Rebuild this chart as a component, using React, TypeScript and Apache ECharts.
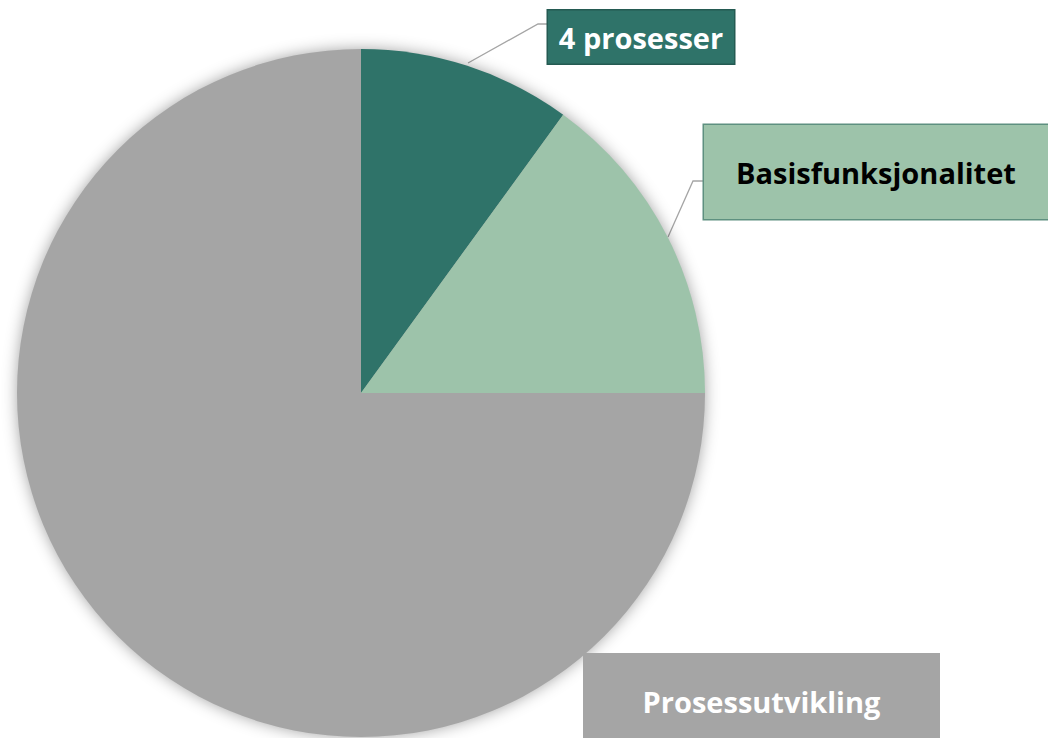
import React, { useEffect, useRef } from "react";
import * as echarts from "echarts";

const categories = ["4 prosesser", "Basisfunksjonalitet", "Prosessutvikling"];
const values = [10, 15, 75];
const sliceColors = ["#2F7369", "#9DC3AA", "#A5A5A5"];
const labelBg = ["#2F7369", "#9DC3AA", "#A5A5A5"];
const labelBorder = ["#245A52", "#5E9080", "#A5A5A5"];
const labelText = ["#FFFFFF", "#000000", "#FFFFFF"];

// label box geometry: [centerX, centerY, width, height]
const labelBoxes = [
  [641, 37, 186, 53],
  [876, 172, 344, 94],
  [761.5, 701.5, 357, 97],
];
// leader line points (null = no line)
const leaderLines: (number[][] | null)[] = [
  [[468, 63], [538, 24], [548, 24]],
  [[668, 237], [693, 181], [704, 181]],
  null,
];

export default function App() {
  const ref = useRef<HTMLDivElement>(null);
  useEffect(() => {
    if (!ref.current) return;
    const chart = echarts.init(ref.current, null, { renderer: "svg" });
    const total = values.reduce((a, b) => a + b, 0);
    chart.setOption({
      animation: false,
      backgroundColor: "#FFFFFF",
      series: [
        {
          // soft drop shadow under the whole pie
          type: "pie",
          silent: true,
          center: [361, 393],
          radius: 343,
          label: { show: false },
          labelLine: { show: false },
          emphasis: { disabled: true },
          itemStyle: {
            color: "#A5A5A5",
            shadowBlur: 16,
            shadowColor: "rgba(0,0,0,0.4)",
          },
          data: [{ name: "", value: total }],
        },
        {
          type: "pie",
          center: [361, 393],
          radius: 344,
          startAngle: 90,
          clockwise: true,
          avoidLabelOverlap: false,
          emphasis: { disabled: true },
          labelLine: {
            show: true,
            lineStyle: { color: "#A5A5A5", width: 1.3 },
          },
          data: categories.map((name, i) => ({
            name,
            value: values[i],
            itemStyle: { color: sliceColors[i] },
            labelLine: { show: leaderLines[i] !== null },
            label: {
              show: true,
              position: "outside",
              formatter: "{b}",
              fontFamily: "'Open Sans', sans-serif",
              fontWeight: "bold",
              fontSize: 29,
              color: labelText[i],
              backgroundColor: labelBg[i],
              borderColor: labelBorder[i],
              borderWidth: i === 2 ? 0 : 1.5,
              width: labelBoxes[i][2],
              height: labelBoxes[i][3],
              lineHeight: labelBoxes[i][3],
              align: "center",
              verticalAlign: "middle",
              padding: 0,
            },
          })),
          labelLayout: (params: any) => {
            const i = params.dataIndex;
            const b = labelBoxes[i];
            const res: any = {
              x: b[0],
              y: b[1],
              align: "center",
              verticalAlign: "middle",
            };
            if (leaderLines[i]) res.labelLinePoints = leaderLines[i];
            return res;
          },
        },
      ],
    });
    return () => chart.dispose();
  }, []);
  return (
    <div
      ref={ref}
      style={{ position: "fixed", left: 0, top: 0, width: 1048, height: 738 }}
    />
  );
}
